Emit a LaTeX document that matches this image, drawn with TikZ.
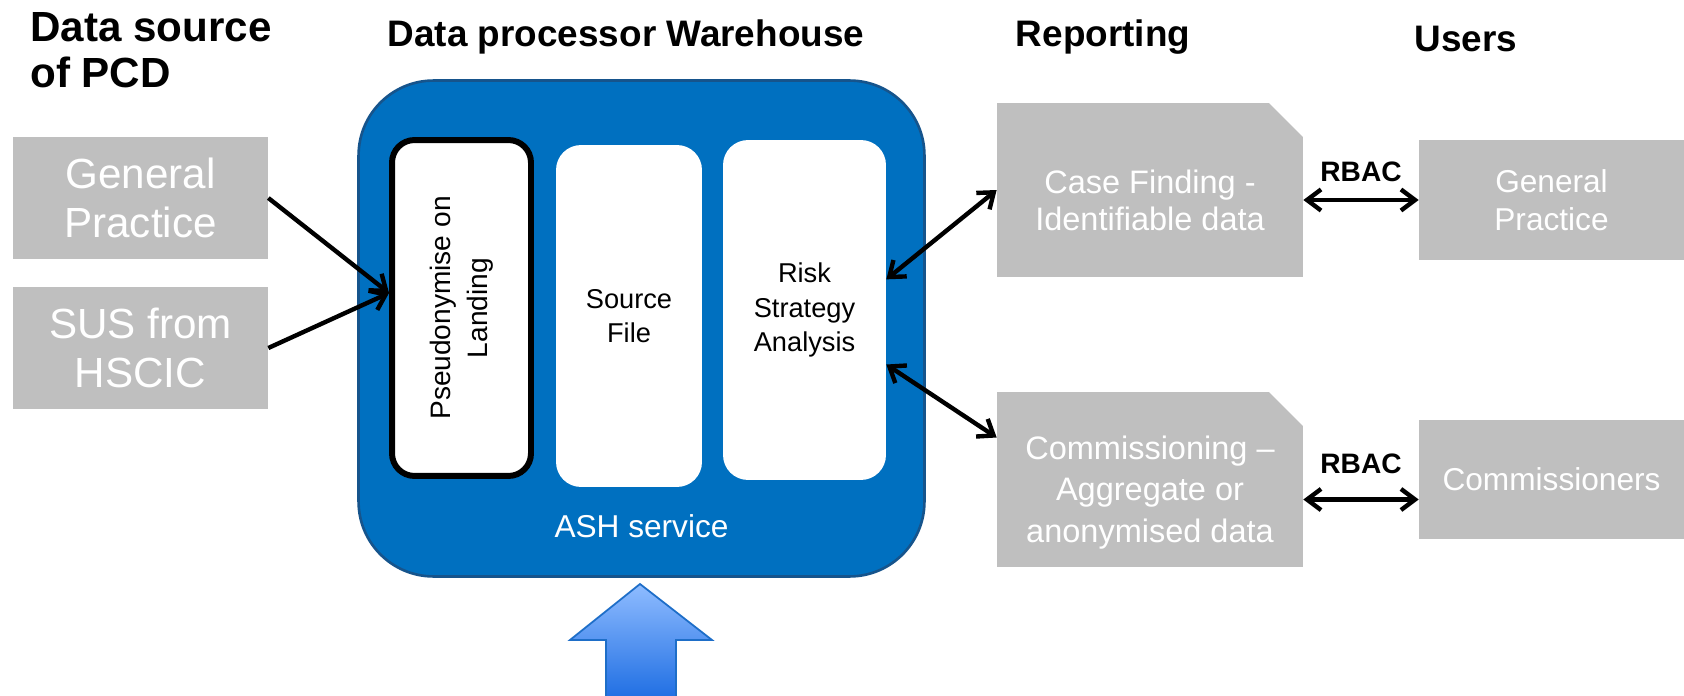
\documentclass[tikz,border=0pt]{standalone}
\usepackage{fontspec}
\setmainfont{Liberation Sans}
\usetikzlibrary{arrows.meta,shapes.misc,calc}

\definecolor{boxgrey}{RGB}{191,191,191}
\definecolor{ashblue}{RGB}{0,112,192}
\definecolor{ashedge}{RGB}{22,84,140}
\definecolor{uptop}{RGB}{143,188,255}
\definecolor{upbottom}{RGB}{28,108,226}
\definecolor{upedge}{RGB}{30,110,200}

\tikzset{
  hdr/.style={inner sep=0pt, font=\fontsize{21}{25}\selectfont\bfseries},
  srcbox/.style={fill=boxgrey, text=white, align=center, minimum width=5.1cm, minimum height=2.46cm, font=\fontsize{24}{28}\selectfont},
  ashbox/.style={fill=ashblue, draw=ashedge, line width=1.5pt, rounded corners=1.5cm, minimum width=11.32cm, minimum height=9.92cm},
  landbox/.style={fill=white, draw=black, line width=3.4pt, rounded corners=0.45cm, minimum width=2.78cm, minimum height=6.72cm, font=\fontsize{16}{21.4}\selectfont},
  innerbox/.style={fill=white, rounded corners=0.5cm, align=center, minimum height=6.84cm, font=\fontsize{15.5}{19.5}\selectfont},
  ashtxt/.style={text=white, font=\fontsize{18}{21}\selectfont},
  repbox/.style={chamfered rectangle, chamfered rectangle corners=north east, chamfered rectangle xsep=0.32cm, chamfered rectangle ysep=0.36cm, inner xsep=0pt, inner ysep=0pt, fill=boxgrey, text=white, minimum width=6.12cm, minimum height=3.48cm},
  usrbox/.style={fill=boxgrey, text=white, align=center, minimum width=5.3cm, minimum height=2.4cm, font=\fontsize{18}{21.4}\selectfont},
  uparrow/.style={draw=upedge, line width=1pt, top color=uptop, bottom color=upbottom},
  link/.style={line width=2.5pt, draw=black},
  into/.style={link, -{Straight Barb[length=8pt,width=12pt]}},
  both/.style={link, {Straight Barb[length=8pt,width=12pt]}-{Straight Barb[length=8pt,width=12pt]}},
  rbac/.style={font=\fontsize{16}{19}\selectfont\bfseries},
}

\begin{document}
\begin{tikzpicture}[x=0.02cm,y=-0.02cm]
  \useasboundingbox (0,0) rectangle (1684,696);

  % headings
  \node[hdr, font=\fontsize{24}{26.5}\selectfont\bfseries, anchor=west, align=left] (srchdr) at (30,50) {Data source\\of PCD};
  \node[hdr] (whhdr) at (626,37) {Data processor Warehouse};
  \node[hdr] (rephdr) at (1103,37) {Reporting};
  \node[hdr] (usrhdr) at (1466,39) {Users};

  % data sources
  \node[srcbox] (gp) at (140.5,198) {General\\Practice};
  \node[srcbox] (sus) at (140.5,348) {SUS from\\HSCIC};

  % warehouse
  \node[ashbox] (ash) at (641.5,328.5) {};
  \node[landbox] (pseudo) at (461.5,308) {\rotatebox{90}{\begin{tabular}{@{}c@{}}Pseudonymise on\\Landing\end{tabular}}};
  \node[innerbox, minimum width=2.92cm] (srcfile) at (629,316) {Source\\File};
  \node[innerbox, minimum width=3.26cm, minimum height=6.8cm] (risk) at (804.5,310) {Risk\\Strategy\\Analysis};
  \node[ashtxt] (ashlbl) at ($(ash.south)+(0,-52)$) {ASH service};
  \draw[uparrow] (606,702) -- (606,640) -- (570,640) -- (640,584) -- (712,640) -- (676,640) -- (676,702) -- cycle;

  % reporting
  \node[repbox, font=\fontsize{18.5}{21}\selectfont] (case) at (1150,190)
    {\raisebox{-8.5pt}[\height][\depth]{\begin{tabular}{@{}c@{}}Case Finding -\\Identifiable data\end{tabular}}};
  \node[repbox, minimum height=3.5cm, font=\fontsize{18.5}{23.5}\selectfont] (comm) at (1150,479.5)
    {\raisebox{-7.5pt}[\height][\depth]{\begin{tabular}{@{}c@{}}Commissioning --\\Aggregate or\\anonymised data\end{tabular}}};

  % users
  \node[usrbox] (gpu) at (1551.5,200) {General\\Practice};
  \node[usrbox] (commr) at (1551.5,479.5) {Commissioners};

  % flows
  \draw[into] (gp.east) -- ($(pseudo.west)+(0,-15)$);
  \draw[into] (sus.east) -- ($(pseudo.west)+(0,-15)$);
  \draw[both] (case.west) -- ($(risk.north east)!0.41!(risk.south east)$);
  \draw[both] ($(comm.west)+(0,-42)$) -- ($(risk.north east)!0.66!(risk.south east)$);
  \draw[both] (case.east |- gpu.west) -- node[rbac, above=6pt] (rbac1) {RBAC} (gpu.west);
  \draw[both] ($(comm.east)+(0,20)$) -- node[rbac, above=10pt] (rbac2) {RBAC} ($(commr.west)+(0,20)$);
\end{tikzpicture}
\end{document}
